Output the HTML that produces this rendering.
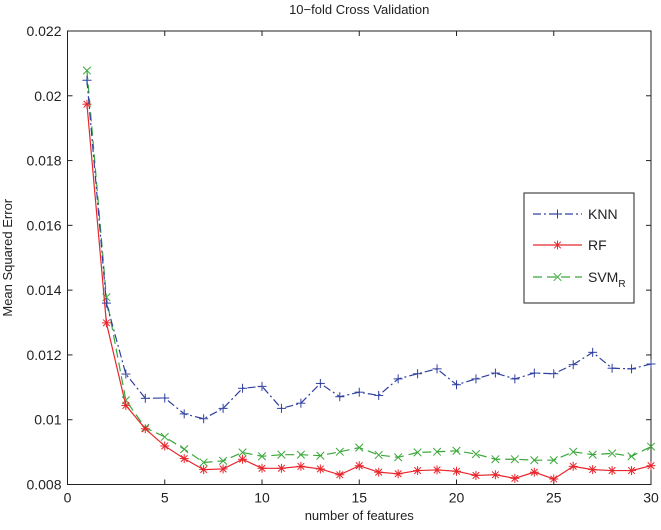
<!DOCTYPE html>
<html><head><meta charset="utf-8"><style>
body{margin:0;background:#fff;}
svg text{font-family:"Liberation Sans",sans-serif;fill:#222;}
</style></head><body>
<svg id="chart" width="661" height="525"></svg>
<script>
const xTicks=[0,5,10,15,20,25,30];
const yTicks=[0.008,0.01,0.012,0.014,0.016,0.018,0.02,0.022];
const yTickLabels=["0.008","0.01","0.012","0.014","0.016","0.018","0.02","0.022"];
const featureCounts=[1,2,3,4,5,6,7,8,9,10,11,12,13,14,15,16,17,18,19,20,21,22,23,24,25,26,27,28,29,30];
const knnValues=[0.02048,0.01360,0.01141,0.01066,0.01067,0.01018,0.01003,0.01035,0.01097,0.01103,0.01035,0.01051,0.01112,0.01071,0.01085,0.01075,0.01126,0.01142,0.01157,0.01108,0.01126,0.01144,0.01126,0.01144,0.01142,0.01170,0.01208,0.01159,0.01157,0.01172];
const rfValues=[0.01974,0.01299,0.01044,0.00972,0.00919,0.00880,0.00846,0.00848,0.00878,0.00850,0.00850,0.00856,0.00848,0.00830,0.00858,0.00838,0.00833,0.00843,0.00845,0.00841,0.00828,0.00830,0.00819,0.00838,0.00817,0.00856,0.00846,0.00843,0.00843,0.00858];
const svmValues=[0.02078,0.01378,0.01060,0.00975,0.00947,0.00909,0.00868,0.00873,0.00899,0.00887,0.00892,0.00892,0.00889,0.00901,0.00914,0.00891,0.00884,0.00899,0.00901,0.00904,0.00894,0.00878,0.00878,0.00875,0.00875,0.00901,0.00892,0.00896,0.00887,0.00917];

const L=67.5,R=651,T=31,B=484.5;
const sx=v=>L+(v-0)/(30-0)*(R-L);
const sy=v=>B-(v-0.008)/(0.022-0.008)*(B-T);
const NS="http://www.w3.org/2000/svg";
const svg=document.getElementById('chart');
function mk(tag,attrs,parent){const e=document.createElementNS(NS,tag);for(const k in attrs)e.setAttribute(k,attrs[k]);(parent||svg).appendChild(e);return e;}

const title=mk('text',{x:(L+R)/2,y:14,'text-anchor':'middle','font-size':'13'});
title.textContent='10−fold Cross Validation';



const frame=mk('rect',{x:L,y:T,width:R-L,height:B-T,fill:'none',stroke:'#222','stroke-width':'1'});



xTicks.forEach(t=>{
  const x=sx(t);
  mk('line',{x1:x,y1:B,x2:x,y2:B-5,stroke:'#222'});
  mk('line',{x1:x,y1:T,x2:x,y2:T+5,stroke:'#222'});
  const tx=mk('text',{x:x,y:B+18,'text-anchor':'middle','font-size':'14'});
  tx.textContent=t;
  
  
});
yTicks.forEach((t,i)=>{
  const y=sy(t);
  mk('line',{x1:L,y1:y,x2:L+5,y2:y,stroke:'#222'});
  mk('line',{x1:R,y1:y,x2:R-5,y2:y,stroke:'#222'});
  const tx=mk('text',{x:L-6,y:y+5,'text-anchor':'end','font-size':'14'});
  tx.textContent=yTickLabels[i];
  
  
});
const xl=mk('text',{x:(L+R)/2,y:520,'text-anchor':'middle','font-size':'13'});
xl.textContent='number of features';


const yl=mk('text',{x:0,y:0,'text-anchor':'middle','font-size':'13',transform:'translate(12,'+((T+B)/2)+') rotate(-90)'});
yl.textContent='Mean Squared Error';



function marker(type,x,y,c,g){
  const s=4.5;
  if(type==='plus'||type==='star'){
    mk('line',{x1:x-s,y1:y,x2:x+s,y2:y,stroke:c},g);
    mk('line',{x1:x,y1:y-s,x2:x,y2:y+s,stroke:c},g);
  }
  if(type==='x'||type==='star'){
    const d=type==='star'?3.3:3.8;
    mk('line',{x1:x-d,y1:y-d,x2:x+d,y2:y+d,stroke:c},g);
    mk('line',{x1:x-d,y1:y+d,x2:x+d,y2:y-d,stroke:c},g);
  }
}
function series(vals,color,dash,mtype,name){
  const g=mk('g',{});
  
  
  const pts=featureCounts.map((f,i)=>sx(f)+','+sy(vals[i])).join(' ');
  mk('polyline',{points:pts,fill:'none',stroke:color,'stroke-width':'1.2','stroke-dasharray':dash},g);
  featureCounts.forEach((f,i)=>marker(mtype,sx(f),sy(vals[i]),color,g));
}
series(svmValues,'#3aa83a','9,5','x','svm-series');
series(rfValues,'#e8262c','none','star','rf-series');
series(knnValues,'#3040a0','8,3,2,3','plus','knn-series');

const lg=mk('g',{});


mk('rect',{x:524,y:193,width:110,height:110,fill:'#fff',stroke:'#222'},lg);
const entries=[['KNN','#3040a0','8,3,2,3','plus',214],['RF','#e8262c','none','star',245],['SVM','#3aa83a','9,5','x',277]];
entries.forEach(e=>{
  const eg=mk('g',{},lg);
  
  
  mk('line',{x1:533,y1:e[4],x2:582,y2:e[4],stroke:e[1],'stroke-width':'1.2','stroke-dasharray':e[2]},eg);
  marker(e[3],557.5,e[4],e[1],eg);
  const t=mk('text',{x:588,y:e[4]+5,'font-size':'14'},eg);
  t.textContent=e[0];
  if(e[0]==='SVM'){const s=mk('tspan',{'font-size':'10',dy:'5'},t);s.textContent='R';}
});
</script>
</body></html>
